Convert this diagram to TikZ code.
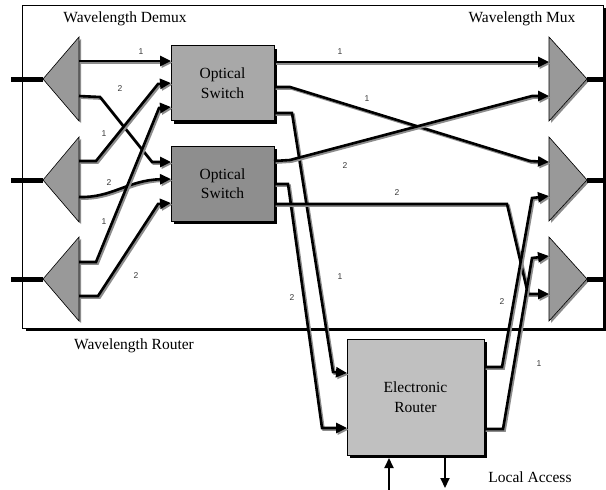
\documentclass[tikz,border=0pt]{standalone}
\usepackage{fontspec}
\setmainfont{Liberation Serif}
\newfontfamily\labfont{Liberation Sans}
\usetikzlibrary{arrows.meta,shadows}
\definecolor{shadowgray}{HTML}{8C8C8C}
\definecolor{trigray}{HTML}{999999}
\definecolor{swone}{HTML}{A8A8A8}
\definecolor{swtwo}{HTML}{8E8E8E}
\definecolor{rtgray}{HTML}{C0C0C0}
\definecolor{labgray}{HTML}{3A3A3A}
\begin{document}
\begin{tikzpicture}[x=1pt,y=-1pt,
  wire/.style={line width=2.6pt, -{Triangle[length=11pt,width=10pt]},
    preaction={draw=shadowgray, line width=2.6pt, -{Triangle[length=11pt,width=10pt]},
      transform canvas={shift={(1.6pt,-1.6pt)}}}},
  fiber/.style={line width=5pt},
  tri/.style={draw=black, line width=0.6pt, fill=trigray,
    preaction={fill=shadowgray, transform canvas={shift={(2pt,-2pt)}}}},
  boxsh/.style={draw=black, line width=0.6pt, align=center,
    font=\fontsize{15.5}{19.5}\selectfont,
    drop shadow={shadow xshift=3pt, shadow yshift=-3pt, fill=black, opacity=1}},
  swbox/.style={boxsh, minimum width=103pt, minimum height=75pt, inner sep=0pt},
  lab/.style={font=\labfont\fontsize{8.5}{10}\selectfont, text=labgray, inner sep=0pt},
  title/.style={font=\fontsize{15.5}{19}\selectfont, inner sep=0pt},
  local/.style={line width=2pt, -{Triangle[length=10pt,width=9pt]}}
]
\useasboundingbox (0,0) rectangle (606,490);

% outer box
\node[boxsh, fill=white, minimum width=580.5pt, minimum height=323pt, inner sep=0pt] (wr) at (312.75,166.5) {};

% titles
\node[title] (tdemux) at (125,19) {Wavelength Demux};
\node[title] (tmux) at (522,19) {Wavelength Mux};
\node[title] (trouter) at (134,346) {Wavelength Router};
\node[title] (tlocal) at (530,477) {Local Access};

% demux triangles
\coordinate (d1t) at (43,79);
\coordinate (d2t) at (43,180);
\coordinate (d3t) at (43,279);
\draw[tri] (79,37) -- (79,121) -- (d1t) -- cycle;
\draw[tri] (79,137) -- (79,222) -- (d2t) -- cycle;
\draw[tri] (79,237) -- (79,321) -- (d3t) -- cycle;
% mux triangles
\coordinate (m1t) at (587,79);
\coordinate (m2t) at (587,180);
\coordinate (m3t) at (587,279);
\draw[tri] (549,37) -- (549,121) -- (m1t) -- cycle;
\draw[tri] (549,137) -- (549,221) -- (m2t) -- cycle;
\draw[tri] (549,237) -- (549,321) -- (m3t) -- cycle;

% fibers in/out
\coordinate (in1) at (11,79);
\coordinate (in2) at (11,180);
\coordinate (in3) at (11,279);
\coordinate (out1) at (606,79);
\coordinate (out2) at (606,180);
\coordinate (out3) at (606,279);
\draw[fiber] (in1) -- (d1t);
\draw[fiber] (in2) -- (d2t);
\draw[fiber] (in3) -- (d3t);
\draw[fiber] (m1t) -- (out1);
\draw[fiber] (m2t) -- (out2);
\draw[fiber] (m3t) -- (out3);

% switches and router
\node[swbox, fill=swone] (s1) at (222.5,83) {Optical\\Switch};
\node[swbox, fill=swtwo] (s2) at (222.5,183.5) {Optical\\Switch};
\node[boxsh, fill=rtgray, minimum width=137pt, minimum height=116pt, inner sep=0pt] (rt) at (415.5,397) {Electronic\\Router};

% ports
\coordinate (d1a) at (79,61);  \coordinate (d1b) at (79,96);
\coordinate (d2a) at (79,161); \coordinate (d2b) at (79,197);
\coordinate (d3a) at (79,262); \coordinate (d3b) at (79,296);
\coordinate (s1i1) at (171,61); \coordinate (s1i2) at (171,83); \coordinate (s1i3) at (171,107);
\coordinate (s2i1) at (171,162); \coordinate (s2i2) at (171,179); \coordinate (s2i3) at (171,203);
\coordinate (s1o1) at (274,62); \coordinate (s1o2) at (274,87); \coordinate (s1o3) at (274,113);
\coordinate (s2o1) at (274,161); \coordinate (s2o2) at (274,184); \coordinate (s2o3) at (274,204);
\coordinate (m1i1) at (549,62); \coordinate (m1i2) at (549,96);
\coordinate (m2i1) at (549,162); \coordinate (m2i2) at (549,196);
\coordinate (m3i1) at (549,256); \coordinate (m3i2) at (549,294);
\coordinate (rti1) at (347,373); \coordinate (rti2) at (347,428);
\coordinate (rto1) at (484,367); \coordinate (rto2) at (484,429);

% demux -> switches
\draw[wire] (d1a) -- (s1i1);
\draw[wire] (d1b) -- (100,97) -- (152,162) -- (s2i1);
\draw[wire] (d2a) -- (96,161) -- (158,84) -- (s1i2);
\draw[wire] (d2b) .. controls (112,198) and (128,180) .. (s2i2);
\draw[wire] (d3a) -- (96,262) -- (159,108) -- (s1i3);
\draw[wire] (d3b) -- (98,296) -- (158,204) -- (s2i3);

% switches -> mux / router
\draw[wire] (s1o1) -- (m1i1);
\draw[wire] (s1o2) -- (290,87) -- (530,161) -- (m2i1);
\draw[wire] (s1o3) -- (292,113) -- (333,372) -- (rti1);
\draw[wire] (s2o1) -- (290,160) -- (532,96) -- (m1i2);
\draw[wire] (s2o2) -- (288,184) -- (322,428) -- (rti2);
\draw[wire] (s2o3) -- (507,204) -- (528,294) -- (m3i2);

% router -> mux
\draw[wire] (rto1) -- (502,367) -- (532,198) -- (m2i2);
\draw[wire] (rto2) -- (503,429) -- (532,258) -- (m3i1);

% local access
\coordinate (lain) at (389,490);
\coordinate (latop) at (389,458);
\coordinate (laout) at (445,458);
\coordinate (labot) at (445,488);
\draw[local] (lain) -- (latop);
\draw[local] (laout) -- (labot);

% labels
\node[lab] (l1) at (141,52) {1};
\node[lab] (l2) at (120,89) {2};
\node[lab] (l3) at (104,134) {1};
\node[lab] (l4) at (109,183) {2};
\node[lab] (l5) at (104,222) {1};
\node[lab] (l6) at (136,276) {2};
\node[lab] (l7) at (340,52) {1};
\node[lab] (l8) at (367,99) {1};
\node[lab] (l9) at (345,166) {2};
\node[lab] (l10) at (397,193) {2};
\node[lab] (l11) at (340,277) {1};
\node[lab] (l12) at (292,298) {2};
\node[lab] (l13) at (502,302) {2};
\node[lab] (l14) at (539,364) {1};
\end{tikzpicture}
\end{document}
